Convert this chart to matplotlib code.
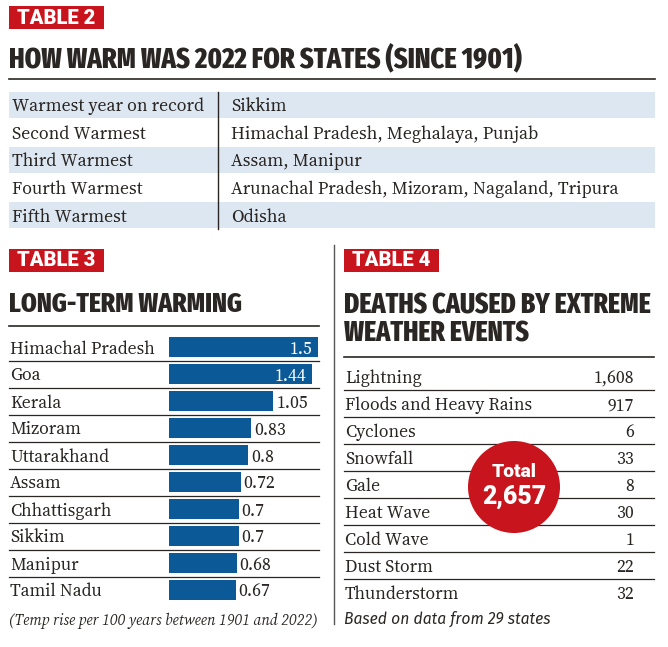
import matplotlib
matplotlib.use("Agg")
import matplotlib.pyplot as plt
from matplotlib.patches import Rectangle, Circle
import logging
logging.getLogger("matplotlib.font_manager").setLevel(logging.ERROR)

# ---------------- data ----------------
t2_ranks = ["Warmest year on record", "Second Warmest", "Third Warmest",
            "Fourth Warmest", "Fifth Warmest"]
t2_states = ["Sikkim", "Himachal Pradesh, Meghalaya, Punjab", "Assam, Manipur",
             "Arunachal Pradesh, Mizoram, Nagaland, Tripura", "Odisha"]

t3_states = ["Himachal Pradesh", "Goa", "Kerala", "Mizoram", "Uttarakhand",
             "Assam", "Chhattisgarh", "Sikkim", "Manipur", "Tamil Nadu"]
t3_values = [1.5, 1.44, 1.05, 0.83, 0.8, 0.72, 0.7, 0.7, 0.68, 0.67]
t3_labels = ["1.5", "1.44", "1.05", "0.83", "0.8", "0.72", "0.7", "0.7", "0.68", "0.67"]

t4_events = ["Lightning", "Floods and Heavy Rains", "Cyclones", "Snowfall", "Gale",
             "Heat Wave", "Cold Wave", "Dust Storm", "Thunderstorm"]
t4_deaths = [1608, 917, 6, 33, 8, 30, 1, 22, 32]

# ---------------- style ----------------
RED = "#c8141c"
BLUE = "#0b5996"
SHADE = "#dde7f1"
INK = "#2a2624"
W, H = 668, 647
TITLE_FONT = ["Fira Sans Extra Condensed", "Roboto Condensed", "DejaVu Sans"]
SERIF = ["Source Serif 4", "PT Serif", "Liberation Serif", "DejaVu Serif"]
SANS = ["Fira Sans", "Roboto", "DejaVu Sans"]
TAG_FONT = ["Roboto", "Fira Sans", "DejaVu Sans"]
BODY_W = 500
TITLE_W = 800

fig = plt.figure(figsize=(W / 100, H / 100), dpi=100)
ax = fig.add_axes([0, 0, 1, 1])
ax.set_xlim(0, W)
ax.set_ylim(H, 0)
ax.axis("off")
R = fig.canvas.get_renderer()


def fitted_size(text, width, **kw):
    t = ax.text(0, 0, text, fontsize=20, **kw)
    w = t.get_window_extent(R).width
    t.remove()
    return 20 * width / w


def fit_text(x, y, text, width, **kw):
    size = fitted_size(text, width, **kw)
    return ax.text(x, y, text, fontsize=size, **kw)


def tag(x, y, text):
    ax.add_patch(Rectangle((x, y), 95, 23, color=RED, lw=0))
    fit_text(x + 47.5, y + 12, text, 78, color="white", fontweight="heavy",
             family=TAG_FONT, ha="center", va="center")


def title(x, y, text, width):
    fit_text(x, y, text, width, color=INK, fontweight=TITLE_W, family=TITLE_FONT,
             ha="left", va="baseline")


# ---------------- TABLE 2 ----------------
tag(9, 6, "TABLE 2")
title(9, 67, "HOW WARM WAS 2022 FOR STATES (SINCE 1901)", 513)
ax.plot([9, 655], [79, 79], color=INK, lw=1.2)
row_h2 = 27.6
top2 = 91
fs2 = fitted_size(t2_ranks[0], 193, family=SERIF, fontweight=BODY_W)
for i, (r, s) in enumerate(zip(t2_ranks, t2_states)):
    y0 = top2 + i * row_h2
    if i % 2 == 0:
        ax.add_patch(Rectangle((9, y0 + 1), 646, row_h2 - 2, color=SHADE, lw=0))
    yb = y0 + row_h2 / 2 + 6.5
    ax.text(12, yb, r, color=INK, fontsize=fs2, family=SERIF, fontweight=BODY_W,
            ha="left", va="baseline")
    ax.text(231, yb, s, color=INK, fontsize=fs2, family=SERIF, fontweight=BODY_W,
            ha="left", va="baseline")
ax.plot([218, 218], [92, 229], color=INK, lw=1)

# ---------------- TABLE 3 ----------------
tag(9, 249, "TABLE 3")
title(9, 312, "LONG-TERM WARMING", 233)
ax.plot([9, 319], [326, 326], color=INK, lw=1.2)
row_h3 = 27
top3 = 333.5
fs3 = fitted_size(t3_states[0], 146, family=SERIF, fontweight=BODY_W)
for i, s in enumerate(t3_states):
    yc = top3 + row_h3 * (i + 0.5)
    ax.text(10, yc + 6.5, s, color=INK, fontsize=fs3, family=SERIF, fontweight=BODY_W,
            ha="left", va="baseline")
    if i < len(t3_states) - 1:
        ax.plot([9, 319], [top3 + row_h3 * (i + 1)] * 2, color=INK, lw=0.9)

bx0, bx1 = 169, 318
bax = fig.add_axes([bx0 / W, 1 - (top3 + row_h3 * len(t3_states)) / H,
                    (bx1 - bx0) / W, row_h3 * len(t3_states) / H])
bax.set_xlim(0, max(t3_values))
bax.set_ylim(len(t3_states) - 0.5, -0.5)
bax.axis("off")
bax.patch.set_alpha(0)
ypos = list(range(len(t3_states)))
bax.barh(ypos, t3_values, height=0.72, color=BLUE, lw=0)
unit = max(t3_values) / (bx1 - bx0)   # data units per pixel
for i, (v, lab) in enumerate(zip(t3_values, t3_labels)):
    if v >= 1.4:
        bax.text(v - 6 * unit, i + 6.5 / row_h3, lab, color="white", fontsize=fs3,
                 family=SERIF, fontweight=BODY_W, ha="right", va="baseline")
    else:
        bax.text(v + 3 * unit, i + 6.5 / row_h3, lab, color=INK, fontsize=fs3,
                 family=SERIF, fontweight=BODY_W, ha="left", va="baseline")

fit_text(9, 625, "(Temp rise per 100 years between 1901 and 2022)", 309, color=INK,
         family=SERIF, style="italic", ha="left", va="baseline")

# divider
ax.plot([334, 334], [245, 624], color="#555555", lw=1)

# ---------------- TABLE 4 ----------------
tag(344, 249, "TABLE 4")
title(344, 313, "DEATHS CAUSED BY EXTREME", 307)
ax.text(344, 342, "WEATHER EVENTS", color=INK, fontweight=TITLE_W,
        family=TITLE_FONT, ha="left", va="baseline",
        fontsize=fitted_size("DEATHS CAUSED BY EXTREME", 307, fontweight=TITLE_W,
                             family=TITLE_FONT))
ax.plot([344, 654], [357, 357], color=INK, lw=1.2)
row_h4 = 26.9
top4 = 363.5
fs4 = fitted_size(t4_events[1], 188, family=SERIF, fontweight=BODY_W)
for i, (e, d) in enumerate(zip(t4_events, t4_deaths)):
    yc = top4 + row_h4 * (i + 0.5)
    ax.text(345, yc + 6.5, e, color=INK, fontsize=fs4, family=SERIF, fontweight=BODY_W,
            ha="left", va="baseline")
    ax.text(634, yc + 6.5, f"{d:,}", color=INK, fontsize=fs4, family=SERIF,
            fontweight=BODY_W, ha="right", va="baseline")
    if i < len(t4_events) - 1:
        ax.plot([344, 654], [top4 + row_h4 * (i + 1)] * 2, color=INK, lw=0.9)

fit_text(344, 624, "Based on data from 29 states", 206, color=INK,
         family=SANS, style="italic", ha="left", va="baseline")

total = sum(t4_deaths)
ax.add_patch(Circle((514, 487), 46, color=RED, lw=0, zorder=5))
t = fit_text(514, 477, "Total", 45, color="white", fontweight="heavy",
             family=TAG_FONT, ha="center", va="baseline")
t.set_zorder(6)
t = fit_text(514, 504, f"{total:,}", 64, color="white", fontweight="heavy",
             family=TAG_FONT, ha="center", va="baseline")
t.set_zorder(6)

fig.savefig("out.png", dpi=100, facecolor="white")
